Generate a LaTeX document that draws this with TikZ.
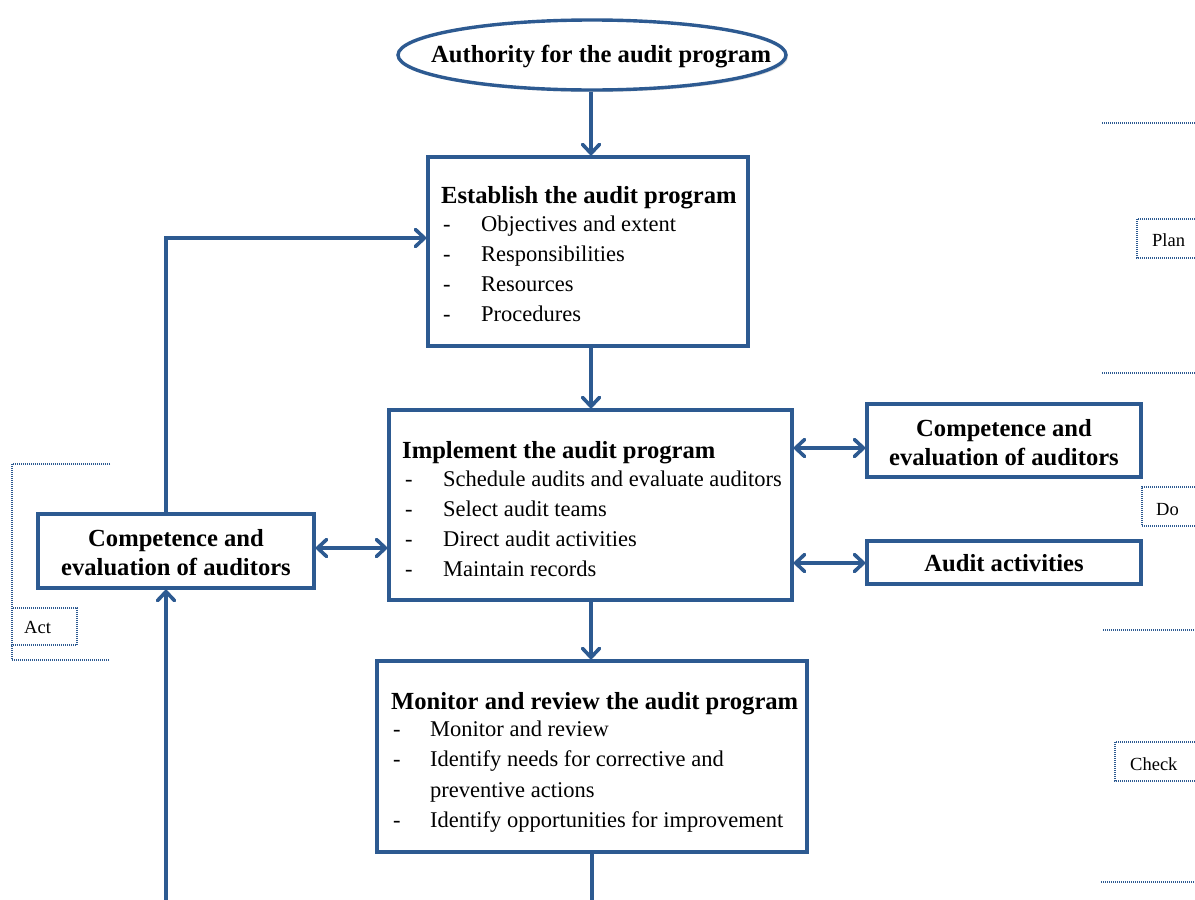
\documentclass[tikz,border=0pt]{standalone}
\usepackage{fontspec}
\setmainfont{Liberation Serif}
\usetikzlibrary{shapes.geometric,arrows.meta,shadows}
\definecolor{pdca}{RGB}{45,90,145}
\begin{document}
\begin{tikzpicture}[x=1pt,y=-1pt,
  shade/.style={drop shadow={shadow xshift=2pt,shadow yshift=-2pt,opacity=0.25}},
  box/.style={draw=pdca,line width=3.6pt,fill=white,rectangle,inner sep=0pt,shade},
  oval/.style={draw=pdca,line width=3.4pt,fill=white,ellipse,inner sep=0pt,shade},
  conn/.style={draw=pdca,line width=3.6pt},
  tip/.style={Straight Barb[length=9pt,width=17pt,round]},
  arr/.style={conn,-{Straight Barb[length=9pt,width=17pt,round]}},
  darr/.style={conn,{Straight Barb[length=9pt,width=17pt,round]}-{Straight Barb[length=9pt,width=17pt,round]}},
  dots/.style={draw=pdca,line width=1.5pt,dash pattern=on 1pt off 1pt},
  ttl/.style={anchor=base west,inner sep=0pt,font=\fontsize{24.6}{28}\selectfont\bfseries},
  itm/.style={anchor=base west,inner sep=0pt,font=\fontsize{22.5}{26}\selectfont},
  ctr/.style={align=center,inner sep=0pt,font=\fontsize{24.6}{29}\selectfont\bfseries},
  tag/.style={anchor=base west,inner sep=0pt,font=\fontsize{18.5}{20}\selectfont}]
\useasboundingbox (0,0) rectangle (1195,900);
\fill[white] (0,0) rectangle (1195,900);
\clip (0,0) rectangle (1195,900);

% top ellipse
\node[oval,minimum width=388pt,minimum height=70pt] (auth) at (592,55) {};
\node[ttl] (authT) at (431,62) {Authority for the audit program};

% establish
\node[box,minimum width=320pt,minimum height=189pt] (est) at (588,251.5) {};
\node[ttl] (estT) at (441,203) {Establish the audit program};
\foreach \t [count=\i] in {Objectives and extent,Responsibilities,Resources,Procedures}{
  \node[itm] (estD\i) at (443,{231+30.3*(\i-1)}) {-};
  \node[itm] (estI\i) at (481,{231+30.3*(\i-1)}) {\t};
}

% implement
\node[box,minimum width=403pt,minimum height=190pt] (imp) at (590.5,505) {};
\node[ttl] (impT) at (402,458) {Implement the audit program};
\foreach \t [count=\i] in {Schedule audits and evaluate auditors,Select audit teams,Direct audit activities,Maintain records}{
  \node[itm] (impD\i) at (405,{486+30.3*(\i-1)}) {-};
  \node[itm] (impI\i) at (443,{486+30.3*(\i-1)}) {\t};
}

% monitor
\node[box,minimum width=430pt,minimum height=191pt] (mon) at (592,756.5) {};
\node[ttl] (monT) at (391,709) {Monitor and review the audit program};
\node[itm] (monD1) at (393,736) {-};
\node[itm] (monI1) at (430,736) {Monitor and review};
\node[itm] (monD2) at (393,766.5) {-};
\node[itm] (monI2) at (430,766.5) {Identify needs for corrective and};
\node[itm] (monI2b) at (430,797) {preventive actions};
\node[itm] (monD3) at (393,827.5) {-};
\node[itm] (monI3) at (430,827.5) {Identify opportunities for improvement};

% side boxes
\node[box,minimum width=274pt,minimum height=73pt] (compR) at (1004,440.5) {};
\node[ctr] (compRT) at (1004,443) {Competence and\\evaluation of auditors};
\node[box,minimum width=274pt,minimum height=43pt] (act) at (1004,562.5) {};
\node[ctr] (actT) at (1004,563) {Audit activities};
\node[box,minimum width=276pt,minimum height=74pt] (compL) at (176,551) {};
\node[ctr] (compLT) at (176,553) {Competence and\\evaluation of auditors};

% connectors
\coordinate (bot) at (166,905);
\coordinate (monEnd) at (592,905);
\draw[arr] (auth.south -| 591,0) -- (est.north -| 591,0);
\draw[arr] (est.south -| 591,0) -- (imp.north -| 591,0);
\draw[arr] (imp.south -| 591,0) -- (mon.north -| 591,0);
\draw[conn] (mon.south -| monEnd) -- (monEnd);
\draw[darr] (imp.east |- 0,448) -- (compR.west |- 0,448);
\draw[darr] (imp.east |- 0,563) -- (act.west |- 0,563);
\draw[darr] (compL.east |- 0,548) -- (imp.west |- 0,548);
\draw[arr] (compL.north -| bot) |- (est.west |- 0,238);
\draw[arr] (bot) -- (compL.south -| bot);

% phase markers, right
\foreach \yy/\xx in {123/1102,373/1102,630/1103,882/1101}
  \draw[dots] (\xx,\yy) -- (1197,\yy);
\draw[dots] (1197,219) -- (1137,219) -- (1137,258) -- (1197,258);
\node[tag] (plan) at (1152,246) {Plan};
\draw[dots] (1197,487) -- (1142,487) -- (1142,526) -- (1197,526);
\node[tag] (do) at (1156,515) {Do};
\draw[dots] (1197,742) -- (1115,742) -- (1115,781) -- (1197,781);
\node[tag] (check) at (1130,770) {Check};

% phase marker, left
\draw[dots] (110,464) -- (12,464) -- (12,660) -- (110,660);
\draw[dots] (12,608) rectangle (77,645);
\node[tag] (actL) at (24,633) {Act};
\end{tikzpicture}
\end{document}
